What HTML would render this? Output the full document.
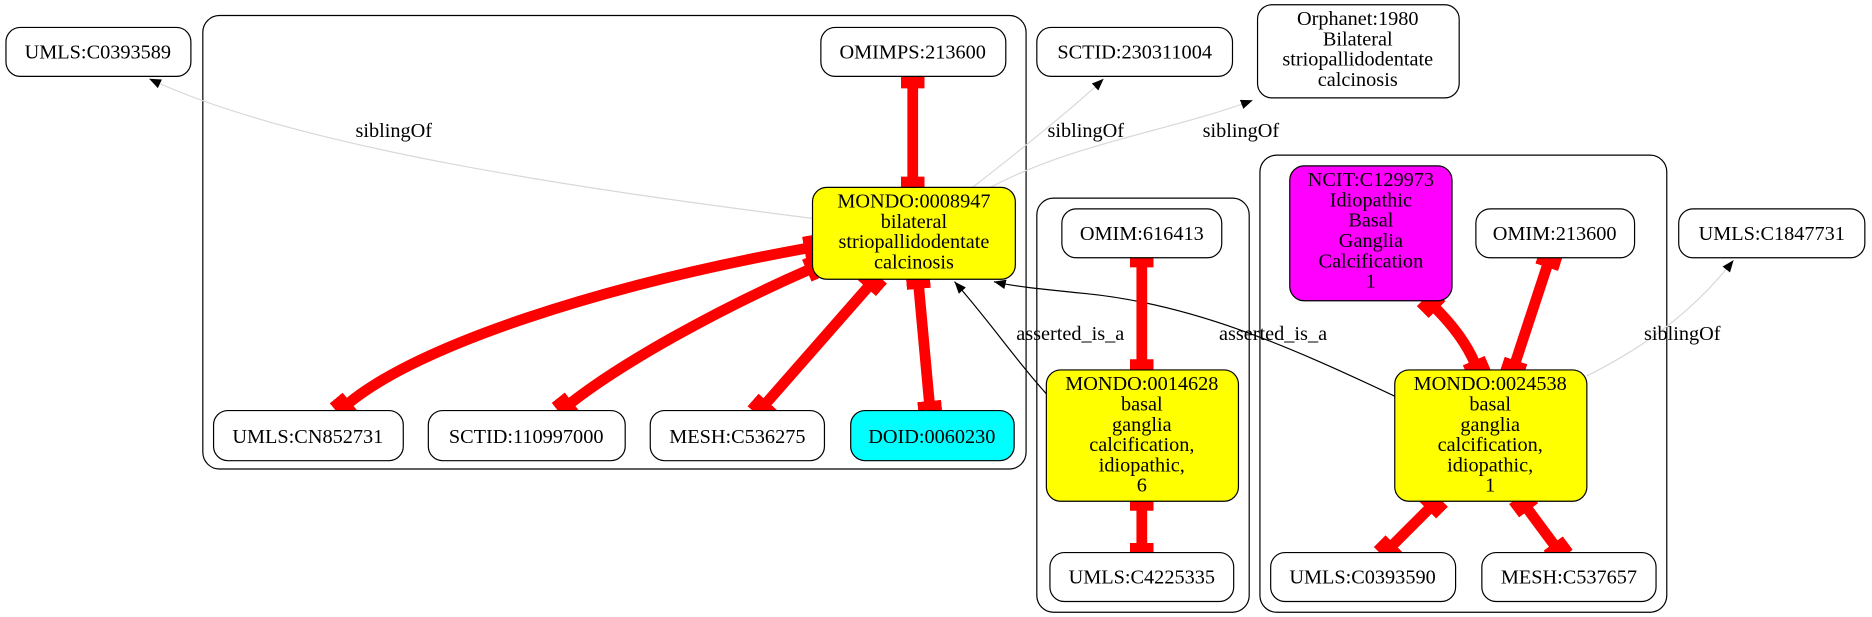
<!DOCTYPE html>
<html><head><meta charset="utf-8"><style>
html,body{margin:0;padding:0;background:#fff;}
svg{display:block;}
text{font-family:"Liberation Serif",serif;font-size:17px;fill:#000;text-anchor:middle;}
.n{fill:#fff;stroke:#000;stroke-width:1;}
.c{fill:none;stroke:#000;stroke-width:1;}
.r{fill:none;stroke:#f00;stroke-width:9;}
.s{fill:none;stroke:#d8d8d8;stroke-width:1;}
.b{fill:none;stroke:#000;stroke-width:1;}
</style></head><body>
<svg width="1872" height="617" viewBox="0 0 1569 517" preserveAspectRatio="none" xmlns="http://www.w3.org/2000/svg">
<defs>
<marker id="bx" viewBox="0 0 14 20" refX="2" refY="10" markerWidth="14" markerHeight="20" markerUnits="userSpaceOnUse" orient="auto-start-reverse">
<rect x="0" y="0" width="14" height="20" fill="#f00"/></marker>
<marker id="ar" viewBox="0 0 10 8" refX="10" refY="4" markerWidth="10" markerHeight="8" markerUnits="userSpaceOnUse" orient="auto">
<path d="M0,0 L10,4 L0,8 z" fill="#000"/></marker>
</defs>
<rect class="c" x="170" y="13" width="690" height="380" rx="14"/>
<rect class="c" x="869" y="166" width="178" height="347" rx="14"/>
<rect class="c" x="1056" y="130" width="341" height="383" rx="14"/>

<path class="s" d="M681,183 C500,160 250,125 125,66" marker-end="url(#ar)"/>
<path class="s" d="M815,157 C850,130 900,90 925,66" marker-end="url(#ar)"/>
<path class="s" d="M830,157 C900,120 980,110 1050,84" marker-end="url(#ar)"/>
<path class="s" d="M1330,315 C1380,290 1420,260 1453,218" marker-end="url(#ar)"/>
<text x="330" y="115">siblingOf</text>
<text x="910" y="115">siblingOf</text>
<text x="1040" y="115">siblingOf</text>
<text x="1410" y="285">siblingOf</text>

<path class="b" d="M877,330 C850,300 830,270 800,236" marker-end="url(#ar)"/>
<path class="b" d="M1169,332 C1080,290 1000,255 910,246 C870,242 850,240 833,236" marker-end="url(#ar)"/>
<text x="897" y="285">asserted_is_a</text>
<text x="1067" y="285">asserted_is_a</text>

<path class="r" d="M765,72 L765,150" marker-start="url(#bx)" marker-end="url(#bx)"/>
<path class="r" d="M676,208 C500,240 350,290 292,338" marker-start="url(#bx)" marker-end="url(#bx)"/>
<path class="r" d="M678,226 C600,260 520,305 478,338" marker-start="url(#bx)" marker-end="url(#bx)"/>
<path class="r" d="M728,240 L642,338" marker-start="url(#bx)" marker-end="url(#bx)"/>
<path class="r" d="M770,240 L779,338" marker-start="url(#bx)" marker-end="url(#bx)"/>
<path class="r" d="M957,222 L957,303" marker-start="url(#bx)" marker-end="url(#bx)"/>
<path class="r" d="M957,426 L957,457" marker-start="url(#bx)" marker-end="url(#bx)"/>
<path class="r" d="M1203,258 C1220,275 1230,290 1236,304" marker-start="url(#bx)" marker-end="url(#bx)"/>
<path class="r" d="M1297,222 L1270,304" marker-start="url(#bx)" marker-end="url(#bx)"/>
<path class="r" d="M1198,426 L1167,457" marker-start="url(#bx)" marker-end="url(#bx)"/>
<path class="r" d="M1280,426 L1303,457" marker-start="url(#bx)" marker-end="url(#bx)"/>

<rect class="n" x="5" y="23" width="155" height="41" rx="12"/><text x="82" y="49">UMLS:C0393589</text>
<rect class="n" x="688" y="23" width="155" height="41" rx="12"/><text x="765" y="49">OMIMPS:213600</text>
<rect class="n" x="681" y="157" width="170" height="77" rx="12" style="fill:#ff0"/>
<text x="766" y="174">MONDO:0008947</text><text x="766" y="191">bilateral</text><text x="766" y="208">striopallidodentate</text><text x="766" y="225">calcinosis</text>
<rect class="n" x="179" y="344" width="159" height="42" rx="12"/><text x="258" y="371">UMLS:CN852731</text>
<rect class="n" x="359" y="344" width="165" height="42" rx="12"/><text x="441" y="371">SCTID:110997000</text>
<rect class="n" x="545" y="344" width="146" height="42" rx="12"/><text x="618" y="371">MESH:C536275</text>
<rect class="n" x="713" y="344" width="137" height="42" rx="12" style="fill:#0ff"/><text x="781" y="371">DOID:0060230</text>
<rect class="n" x="869" y="23" width="164" height="41" rx="12"/><text x="951" y="49">SCTID:230311004</text>
<rect class="n" x="1054" y="4" width="169" height="78" rx="12"/>
<text x="1138" y="21">Orphanet:1980</text><text x="1138" y="38">Bilateral</text><text x="1138" y="55">striopallidodentate</text><text x="1138" y="72">calcinosis</text>
<rect class="n" x="890" y="175" width="134" height="41" rx="12"/><text x="957" y="201">OMIM:616413</text>
<rect class="n" x="877" y="310" width="161" height="110" rx="12" style="fill:#ff0"/>
<text x="957" y="327">MONDO:0014628</text><text x="957" y="344">basal</text><text x="957" y="361">ganglia</text><text x="957" y="378">calcification,</text><text x="957" y="395">idiopathic,</text><text x="957" y="412">6</text>
<rect class="n" x="880" y="463" width="154" height="41" rx="12"/><text x="957" y="489">UMLS:C4225335</text>
<rect class="n" x="1081" y="139" width="136" height="113" rx="12" style="fill:#f0f"/>
<text x="1149" y="156">NCIT:C129973</text><text x="1149" y="173">Idiopathic</text><text x="1149" y="190">Basal</text><text x="1149" y="207">Ganglia</text><text x="1149" y="224">Calcification</text><text x="1149" y="241">1</text>
<rect class="n" x="1237" y="175" width="133" height="41" rx="12"/><text x="1303" y="201">OMIM:213600</text>
<rect class="n" x="1407" y="175" width="156" height="41" rx="12"/><text x="1485" y="201">UMLS:C1847731</text>
<rect class="n" x="1169" y="310" width="161" height="110" rx="12" style="fill:#ff0"/>
<text x="1249" y="327">MONDO:0024538</text><text x="1249" y="344">basal</text><text x="1249" y="361">ganglia</text><text x="1249" y="378">calcification,</text><text x="1249" y="395">idiopathic,</text><text x="1249" y="412">1</text>
<rect class="n" x="1065" y="463" width="155" height="41" rx="12"/><text x="1142" y="489">UMLS:C0393590</text>
<rect class="n" x="1242" y="463" width="146" height="41" rx="12"/><text x="1315" y="489">MESH:C537657</text>
</svg>
</body></html>
